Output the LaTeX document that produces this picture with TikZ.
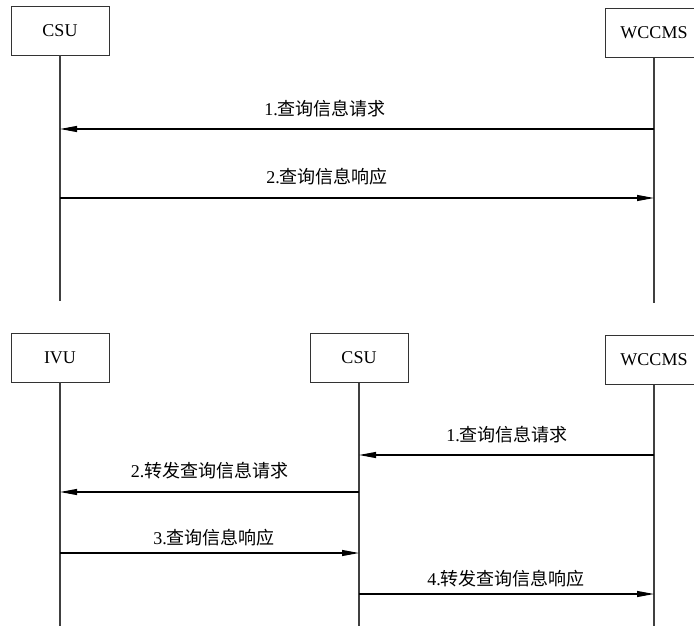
\documentclass[tikz,border=0pt]{standalone}
\usepackage{fontspec}
\setmainfont{Liberation Serif}
\newfontfamily\cjk{Noto Sans CJK SC}
\usetikzlibrary{arrows.meta}
\tikzset{
  entity/.style={draw=black!80,line width=0.9pt,minimum width=98pt,minimum height=49pt,inner sep=0pt},
  life/.style={draw=black!75,line width=1.2pt},
  msg/.style={draw=black,line width=1.1pt,-{Triangle[length=17pt,width=6pt]}},
  lbl/.style={inner sep=0pt}
}
\begin{document}
\begin{tikzpicture}[x=1pt,y=-1pt,font=\fontsize{18}{20}\selectfont]
    \useasboundingbox (0,0) rectangle (694,626);
    \clip (0,0) rectangle (694,626);

    % Upper chart: entities
    \node[entity] (csuA) at (60,30.5) {CSU};
    \node[entity] (wccmsA) at (654,33) {WCCMS};
    \coordinate (csuAend) at (60,301);
    \coordinate (wccmsAend) at (654,303);
    \draw[life] (csuA.south) -- (csuAend);
    \draw[life] (wccmsA.south) -- (wccmsAend);

    % Upper chart: messages
    \draw[msg] (wccmsA |- 0,129) -- (csuA |- 0,129);
    \node[lbl] (a1) at (325,109) {1.{\cjk 查询信息请求}};
    \draw[msg] (csuA |- 0,198) -- (wccmsA |- 0,198);
    \node[lbl] (a2) at (327,177) {2.{\cjk 查询信息响应}};

    % Lower chart: entities
    \node[entity] (ivuB) at (60,357.5) {IVU};
    \node[entity] (csuB) at (359,358) {CSU};
    \node[entity] (wccmsB) at (654,360) {WCCMS};
    \coordinate (ivuBend) at (60,630);
    \coordinate (csuBend) at (359,630);
    \coordinate (wccmsBend) at (654,630);
    \draw[life] (ivuB.south) -- (ivuBend);
    \draw[life] (csuB.south) -- (csuBend);
    \draw[life] (wccmsB.south) -- (wccmsBend);

    % Lower chart: messages
    \draw[msg] (wccmsB |- 0,455) -- (csuB |- 0,455);
    \node[lbl] (b1) at (507,435) {1.{\cjk 查询信息请求}};
    \draw[msg] (csuB |- 0,492) -- (ivuB |- 0,492);
    \node[lbl] (b2) at (209.5,470.5) {2.{\cjk 转发查询信息请求}};
    \draw[msg] (ivuB |- 0,553) -- (csuB |- 0,553);
    \node[lbl] (b3) at (214,537.5) {3.{\cjk 查询信息响应}};
    \draw[msg] (csuB |- 0,594) -- (wccmsB |- 0,594);
    \node[lbl] (b4) at (506,579) {4.{\cjk 转发查询信息响应}};
\end{tikzpicture}
\end{document}
